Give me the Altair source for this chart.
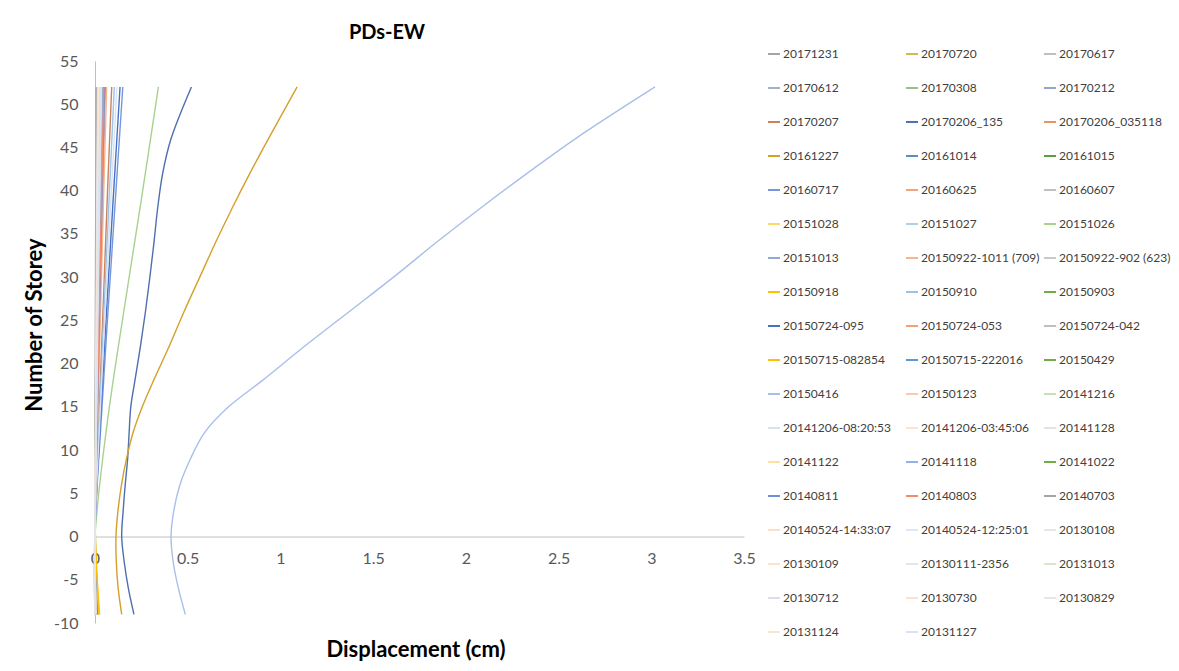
import altair as alt
import pandas as pd

# ---- storey levels ----
STOREY_FINE = [-9, -6, -3, 0, 3, 6, 9, 12, 15, 18, 22, 26, 30, 34, 38, 42, 46, 52]
STOREY_COARSE = [-9, 0, 13, 26, 39, 52]

# ---- legend order (as in reference, read row by row) ----
SERIES = [
    "20171231", "20170720", "20170617",
    "20170612", "20170308", "20170212",
    "20170207", "20170206_135", "20170206_035118",
    "20161227", "20161014", "20161015",
    "20160717", "20160625", "20160607",
    "20151028", "20151027", "20151026",
    "20151013", "20150922-1011 (709)", "20150922-902 (623)",
    "20150918", "20150910", "20150903",
    "20150724-095", "20150724-053", "20150724-042",
    "20150715-082854", "20150715-222016", "20150429",
    "20150416", "20150123", "20141216",
    "20141206-08:20:53", "20141206-03:45:06", "20141128",
    "20141122", "20141118", "20141022",
    "20140811", "20140803", "20140703",
    "20140524-14:33:07", "20140524-12:25:01", "20130108",
    "20130109", "20130111-2356", "20131013",
    "20130712", "20130730", "20130829",
    "20131124", "20131127",
]

COLORS = [
    "#A5A5A5", "#D6B656", "#BFBFBF",
    "#9DB3C9", "#9DC08B", "#8FA6CF",
    "#C9825A", "#4F6FAF", "#E2946A",
    "#D4A02A", "#5E8FC4", "#5E9B45",
    "#7797DC", "#F4A47A", "#C0C0C0",
    "#FFD966", "#B4CCE8", "#A9D18E",
    "#8FAADC", "#F8B48E", "#C9C9C9",
    "#FFC000", "#9DC3E6", "#70AD47",
    "#4472C4", "#F4A070", "#BFBFBF",
    "#FFC000", "#5B9BD5", "#70AD47",
    "#A9BEEA", "#F8CBAD", "#C5E0B4",
    "#DAE1F3", "#FBE3D6", "#E3E3E3",
    "#FFE0A0", "#8FB4E3", "#70AD47",
    "#6F8FD6", "#F08C6E", "#A5A5A5",
    "#FBE0C8", "#DCE8F6", "#E6E6E6",
    "#FCE3CF", "#DCE6F4", "#D7E8CC",
    "#D9DEEA", "#FBE2D5", "#E7E6E6",
    "#FCE6D2", "#DAE3F3",
]

# ---- the three strongly-curved records (on STOREY_FINE) ----
DISP_20150416 = [0.487, 0.45, 0.422, 0.41, 0.425, 0.458, 0.515, 0.59, 0.72, 0.90,
                 1.13, 1.37, 1.61, 1.84, 2.08, 2.33, 2.59, 3.02]
DISP_20161227 = [0.144, 0.125, 0.115, 0.113, 0.124, 0.143, 0.17, 0.205, 0.255, 0.315,
                 0.40, 0.48, 0.565, 0.65, 0.74, 0.835, 0.935, 1.09]
DISP_20170206_135 = [0.21, 0.18, 0.158, 0.144, 0.152, 0.163, 0.176, 0.184, 0.193, 0.215,
                     0.245, 0.272, 0.296, 0.318, 0.338, 0.365, 0.41, 0.52]

# ---- the remaining records (on STOREY_COARSE) ----
DISP_COARSE = {
    "20171231": [0.0, 0.0, 0.001, 0.002, 0.004, 0.005],
    "20170720": [0.004, 0.0, 0.003, 0.006, 0.009, 0.012],
    "20170617": [0.002, 0.0, 0.003, 0.007, 0.011, 0.015],
    "20170612": [0.003, 0.0, 0.004, 0.009, 0.014, 0.019],
    "20170308": [0.002, 0.0, 0.002, 0.005, 0.008, 0.010],
    "20170212": [0.005, 0.0, 0.005, 0.011, 0.017, 0.022],
    "20170207": [0.006, 0.0, 0.02, 0.043, 0.066, 0.09],
    "20170206_035118": [0.005, 0.0, 0.012, 0.026, 0.041, 0.056],
    "20161014": [0.012, 0.0, 0.007, 0.015, 0.023, 0.031],
    "20161015": [0.018, 0.002, 0.009, 0.018, 0.028, 0.038],
    "20160717": [0.01, 0.0, 0.032, 0.07, 0.11, 0.15],
    "20160625": [0.004, 0.0, 0.006, 0.013, 0.02, 0.027],
    "20160607": [0.002, 0.0, 0.002, 0.004, 0.006, 0.008],
    "20151028": [0.003, 0.0, 0.005, 0.01, 0.015, 0.02],
    "20151027": [0.004, 0.0, 0.006, 0.012, 0.018, 0.024],
    "20151026": [0.0, 0.0, 0.065, 0.155, 0.25, 0.342],
    "20151013": [0.005, 0.0, 0.008, 0.018, 0.028, 0.038],
    "20150922-1011 (709)": [0.006, 0.0, 0.014, 0.03, 0.046, 0.063],
    "20150922-902 (623)": [0.002, 0.0, 0.004, 0.008, 0.012, 0.016],
    "20150918": [0.02, 0.001, 0.01, 0.021, 0.033, 0.045],
    "20150910": [0.008, 0.0, 0.022, 0.048, 0.076, 0.104],
    "20150903": [0.003, 0.0, 0.005, 0.011, 0.016, 0.021],
    "20150724-095": [0.01, 0.0, 0.028, 0.062, 0.098, 0.135],
    "20150724-053": [0.005, 0.0, 0.009, 0.02, 0.031, 0.042],
    "20150724-042": [0.002, 0.0, 0.003, 0.006, 0.009, 0.012],
    "20150715-082854": [0.025, 0.002, 0.006, 0.011, 0.017, 0.023],
    "20150715-222016": [0.006, 0.0, 0.01, 0.022, 0.034, 0.046],
    "20150429": [0.004, 0.0, 0.006, 0.012, 0.019, 0.026],
    "20150123": [0.003, 0.0, 0.004, 0.009, 0.014, 0.018],
    "20141216": [0.002, 0.0, 0.003, 0.007, 0.01, 0.014],
    "20141206-08:20:53": [0.008, 0.0, 0.025, 0.055, 0.086, 0.118],
    "20141206-03:45:06": [0.005, 0.0, 0.011, 0.024, 0.037, 0.05],
    "20141128": [0.004, 0.0, 0.008, 0.017, 0.026, 0.035],
    "20141122": [0.004, 0.0, 0.007, 0.015, 0.023, 0.031],
    "20141118": [0.005, 0.0, 0.01, 0.021, 0.032, 0.044],
    "20141022": [0.003, 0.0, 0.005, 0.01, 0.015, 0.02],
    "20140811": [0.005, 0.0, 0.012, 0.025, 0.038, 0.052],
    "20140803": [0.005, 0.0, 0.011, 0.023, 0.035, 0.048],
    "20140703": [0.002, 0.0, 0.002, 0.005, 0.007, 0.01],
    "20140524-14:33:07": [0.003, 0.0, 0.005, 0.011, 0.017, 0.023],
    "20140524-12:25:01": [0.003, 0.0, 0.006, 0.013, 0.02, 0.027],
    "20130108": [0.002, 0.0, 0.004, 0.008, 0.012, 0.016],
    "20130109": [0.002, 0.0, 0.004, 0.009, 0.013, 0.018],
    "20130111-2356": [0.004, 0.0, 0.008, 0.016, 0.025, 0.034],
    "20131013": [0.003, 0.0, 0.005, 0.011, 0.017, 0.022],
    "20130712": [0.003, 0.0, 0.006, 0.012, 0.018, 0.025],
    "20130730": [0.002, 0.0, 0.004, 0.008, 0.012, 0.017],
    "20130829": [0.002, 0.0, 0.003, 0.007, 0.01, 0.014],
    "20131124": [0.003, 0.0, 0.005, 0.01, 0.016, 0.021],
    "20131127": [0.003, 0.0, 0.006, 0.013, 0.02, 0.028],
}

X_TICKS = [0, 0.5, 1, 1.5, 2, 2.5, 3, 3.5]
Y_TICKS = [-10, -5, 0, 5, 10, 15, 20, 25, 30, 35, 40, 45, 50, 55]

# ---- long table ----
rows = []
fine = {"20150416": DISP_20150416, "20161227": DISP_20161227,
        "20170206_135": DISP_20170206_135}
for name in SERIES:
    if name in fine:
        for s, d in zip(STOREY_FINE, fine[name]):
            rows.append({"series": name, "storey": s, "disp": d})
    else:
        for s, d in zip(STOREY_COARSE, DISP_COARSE[name]):
            rows.append({"series": name, "storey": s, "disp": d})
df = pd.DataFrame(rows)

# Vega fills legend columns top-to-bottom; reorder so that the reference's
# row-by-row reading order appears.
NCOL = 3
n = len(SERIES)
legend_order = []
for c in range(NCOL):
    r = 0
    while NCOL * r + c < n:
        legend_order.append(SERIES[NCOL * r + c])
        r += 1
cmap = dict(zip(SERIES, COLORS))
legend_colors = [cmap[s] for s in legend_order]

W, H = 649, 562
zero_off = -(H * 10 / 65)

lines = alt.Chart(df).mark_line(strokeWidth=1.4, interpolate="catmull-rom").encode(
    x=alt.X("disp:Q",
            scale=alt.Scale(domain=[0, 3.5], nice=False, zero=False),
            axis=alt.Axis(values=X_TICKS, labelExpr="'' + datum.value", ticks=False,
                          grid=False, domainColor="#BFBFBF", labelColor="#595959",
                          labelFontSize=16, labelPadding=14, offset=zero_off,
                          labelFlush=False, title=None)),
    y=alt.Y("storey:Q",
            scale=alt.Scale(domain=[-10, 55], nice=False, zero=False),
            axis=alt.Axis(values=Y_TICKS, labelExpr="'' + datum.value", ticks=False,
                          grid=False, domainColor="#BFBFBF", labelColor="#595959",
                          labelFontSize=16, labelPadding=17, labelFlush=False,
                          title=None)),
    color=alt.Color("series:N", sort=legend_order,
                    scale=alt.Scale(domain=legend_order, range=legend_colors),
                    legend=alt.Legend(title=None, orient="none", legendX=672,
                                      legendY=-14, columns=NCOL, symbolType="stroke",
                                      symbolSize=144, symbolStrokeWidth=2,
                                      labelFontSize=12, labelColor="#404040",
                                      rowPadding=21, columnPadding=0,
                                      gridAlign="all", labelOffset=2, padding=0,
                                      labelLimit=250, symbolLimit=100)),
    order=alt.Order("storey:Q"),
)

one = alt.Data(values=[{"k": 1}])
title = alt.Chart(one).mark_text(text="PDs-EW", fontSize=20, fontWeight="bold",
                                 color="#000000", align="center", baseline="middle"
                                 ).encode(x=alt.value(292), y=alt.value(-28))
ytitle = alt.Chart(one).mark_text(text="Number of Storey", fontSize=22, fontWeight="bold",
                                  color="#000000", align="center", baseline="middle",
                                  angle=270).encode(x=alt.value(-60), y=alt.value(264))
xtitle = alt.Chart(one).mark_text(text="Displacement (cm)", fontSize=22, fontWeight="bold",
                                  color="#000000", align="center", baseline="middle"
                                  ).encode(x=alt.value(321), y=alt.value(589))

chart = alt.layer(lines, title, ytitle, xtitle).properties(
    width=W, height=H,
    autosize=alt.AutoSizeParams(type="none"),
    padding={"left": 87, "top": 53, "right": 427, "bottom": 40},
).configure(font="Lato", background="white").configure_view(stroke=None)

chart.save("out.html", embed_options={"renderer": "svg", "actions": False})
